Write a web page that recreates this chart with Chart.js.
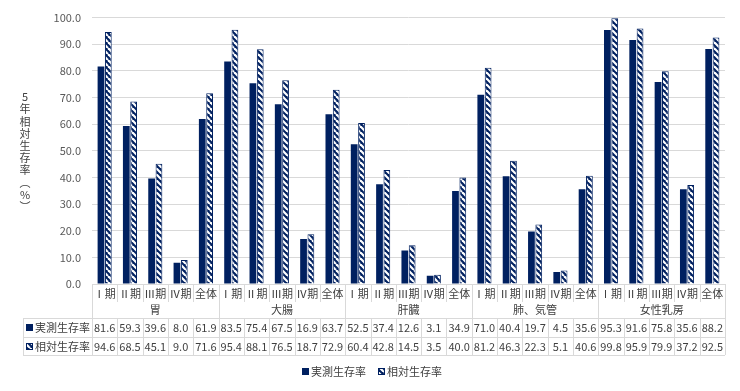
<!DOCTYPE html>
<html>
<head>
<meta charset="utf-8">
<script src="https://cdn.jsdelivr.net/npm/chart.js@4.4.1/dist/chart.umd.min.js"></script>
<style>
  html, body { margin: 0; background: #fff; }
  #wrap { width: 740px; height: 391px; }
</style>
</head>
<body>
<div id="wrap"><canvas id="survivalChart"></canvas></div>
<script>
// organs (group labels) and stages (category labels)
const organs = ['胃', '大腸', '肝臓', '肺、気管', '女性乳房'];
const stages = ['Ⅰ期', 'Ⅱ期', 'Ⅲ期', 'Ⅳ期', '全体'];

// 5-year survival, in organ order, 5 stages each
const observedRate = [
    81.6, 59.3, 39.6, 8.0, 61.9,
    83.5, 75.4, 67.5, 16.9, 63.7,
    52.5, 37.4, 12.6, 3.1, 34.9,
    71.0, 40.4, 19.7, 4.5, 35.6,
    95.3, 91.6, 75.8, 35.6, 88.2
];
const relativeRate = [
    94.6, 68.5, 45.1, 9.0, 71.6,
    95.4, 88.1, 76.5, 18.7, 72.9,
    60.4, 42.8, 14.5, 3.5, 40.0,
    81.2, 46.3, 22.3, 5.1, 40.6,
    99.8, 95.9, 79.9, 37.2, 92.5
];

const seriesNames = ['実測生存率', '相対生存率'];
const yTitle = ['5', '年', '相', '対', '生', '存', '率', '︵', '%', '︶'];
const yMin = 0, yMax = 100, yStep = 10;

const NAVY = '#002060';
const GRID = '#d9d9d9';
const TEXT = '#404040';
const FONT = '"Noto Sans CJK JP", "Noto Sans", sans-serif';

// categories: one per organ/stage pair
const labels = [];
organs.forEach(o => stages.forEach(s => labels.push(o + ' ' + s)));

// diagonal hatch pattern for the relative series
function makeHatch() {
    const size = 6;
    const c = document.createElement('canvas');
    c.width = size; c.height = size;
    const g = c.getContext('2d');
    g.fillStyle = NAVY;
    g.fillRect(0, 0, size, size);
    g.strokeStyle = '#ffffff';
    g.lineWidth = 2.2;
    [-size, 0, size].forEach(off => {
        g.beginPath();
        g.moveTo(off, 0);
        g.lineTo(off + size, size);
        g.stroke();
    });
    return document.getElementById('survivalChart').getContext('2d').createPattern(c, 'repeat');
}
const hatch = makeHatch();

// data table, legend and vertical axis title drawn under the plot
const tablePlugin = {
    id: 'tablePlugin',
    afterDraw(chart) {
        const ctx = chart.ctx;
        const x = chart.scales.x;
        const left = x.left, right = x.right;
        const w = (right - left) / labels.length;
        const top = chart.chartArea.bottom;
        const catBottom = top + 18;
        const headBottom = top + 34;
        const row1Bottom = headBottom + 19;
        const row2Bottom = row1Bottom + 18;
        const labelLeft = 23;

        ctx.save();
        ctx.strokeStyle = GRID;
        ctx.lineWidth = 1;

        const hline = (x1, x2, y) => {
            ctx.beginPath(); ctx.moveTo(x1, y + 0.5); ctx.lineTo(x2, y + 0.5); ctx.stroke();
        };
        const vline = (xx, y1, y2) => {
            ctx.beginPath(); ctx.moveTo(Math.round(xx) + 0.5, y1); ctx.lineTo(Math.round(xx) + 0.5, y2); ctx.stroke();
        };

        hline(left, right, top);
        hline(labelLeft, right, headBottom);
        hline(labelLeft, right, row1Bottom);
        hline(labelLeft, right, row2Bottom);
        vline(labelLeft, headBottom, row2Bottom);
        for (let i = 0; i <= labels.length; i++) {
            const xx = left + i * w;
            if (i % stages.length === 0) vline(xx, top, row2Bottom);
            else {
                vline(xx, top, catBottom);
                vline(xx, headBottom, row2Bottom);
            }
        }

        ctx.fillStyle = TEXT;
        ctx.font = '11px ' + FONT;
        ctx.textAlign = 'center';
        ctx.textBaseline = 'middle';
        labels.forEach((l, i) => {
            const cx = x.getPixelForValue(i);
            ctx.fillText(stages[i % stages.length], cx, top + 10);
            ctx.fillText(observedRate[i].toFixed(1), cx, headBottom + 10);
            ctx.fillText(relativeRate[i].toFixed(1), cx, row1Bottom + 9.5);
        });
        organs.forEach((o, k) => {
            const cx = left + (k + 0.5) * stages.length * w;
            ctx.fillText(o, cx, top + 26);
        });

        // row labels with legend keys
        const key = (kx, ky, hatched) => {
            if (hatched) {
                ctx.fillStyle = hatch;
                ctx.fillRect(kx, ky, 7, 7);
                ctx.strokeStyle = NAVY;
                ctx.strokeRect(kx + 0.5, ky + 0.5, 6, 6);
            } else {
                ctx.fillStyle = NAVY;
                ctx.fillRect(kx, ky, 7, 7);
            }
        };
        ctx.textAlign = 'left';
        key(26, headBottom + 6, false);
        ctx.fillStyle = TEXT;
        ctx.fillText(seriesNames[0], 35, headBottom + 10);
        key(26, row1Bottom + 6, true);
        ctx.fillStyle = TEXT;
        ctx.fillText(seriesNames[1], 35, row1Bottom + 9.5);

        // bottom legend
        const ly = 372;
        const t1 = ctx.measureText(seriesNames[0]).width;
        const t2 = ctx.measureText(seriesNames[1]).width;
        const total = 9 + t1 + 12 + 9 + t2;
        let lx = 372 - total / 2;
        key(lx, ly - 4, false);
        ctx.fillStyle = TEXT;
        ctx.fillText(seriesNames[0], lx + 9, ly);
        lx += 9 + t1 + 12;
        key(lx, ly - 4, true);
        ctx.fillStyle = TEXT;
        ctx.fillText(seriesNames[1], lx + 9, ly);

        // vertical axis title, one character per line
        ctx.textAlign = 'center';
        yTitle.forEach((ch, i) => {
            ctx.fillText(ch, 25, 97 + i * 12.2);
        });
        ctx.restore();
    }
};

new Chart(document.getElementById('survivalChart'), {
    type: 'bar',
    data: {
        labels: labels,
        datasets: [{
            label: seriesNames[0],
            data: observedRate,
            backgroundColor: NAVY,
            borderColor: NAVY,
            borderWidth: 0,
            categoryPercentage: 0.58,
            barPercentage: 0.92
        }, {
            label: seriesNames[1],
            data: relativeRate,
            backgroundColor: hatch,
            borderColor: NAVY,
            borderWidth: 1,
            categoryPercentage: 0.58,
            barPercentage: 0.92
        }]
    },
    options: {
        responsive: true,
        maintainAspectRatio: false,
        animation: false,
        layout: { padding: { left: 40, right: 15, top: 14, bottom: 107 } },
        plugins: {
            legend: { display: false },
            tooltip: { enabled: false }
        },
        scales: {
            x: { display: false },
            y: {
                min: yMin,
                max: yMax,
                afterFit: scale => { scale.width = 52; },
                ticks: {
                    stepSize: yStep,
                    padding: 11,
                    color: '#595959',
                    font: { family: FONT, size: 11 },
                    callback: v => v.toFixed(1)
                },
                grid: { color: GRID, drawTicks: false },
                border: { display: false }
            }
        }
    },
    plugins: [tablePlugin]
});
</script>
</body>
</html>
